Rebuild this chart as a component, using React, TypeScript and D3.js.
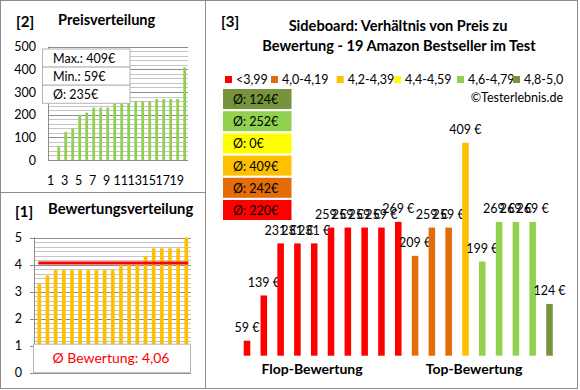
import React from 'react';
import * as d3 from 'd3';

// Prices (€) and ratings of the 19 bestsellers, in the order of the main chart
const prices = [59, 139, 231, 231, 231, 259, 259, 259, 259, 269, 209, 259, 259, 409, 199, 269, 269, 269, 124];
const ratings = [3.3, 3.6, 3.8, 3.8, 3.8, 3.8, 3.8, 3.8, 3.8, 3.8, 4.0, 4.0, 4.0, 4.3, 4.6, 4.6, 4.6, 4.6, 5.0];

const groupLabels = ['<3,99', '4,0-4,19', '4,2-4,39', '4,4-4,59', '4,6-4,79', '4,8-5,0'];
const groupColors = ['#FF0000', '#E46C0A', '#FFC000', '#FFFF00', '#92D050', '#77933C'];
const groupBreaks = [4.0, 4.2, 4.4, 4.6, 4.8];

const priceTicks = [0, 100, 200, 300, 400, 500];
const ratingTicks = [0, 1, 2, 3, 4, 5];
const priceAxisLabels = [1, 3, 5, 7, 9, 11, 13, 15, 17, 19];
const avgRating = 4.06;

const FONT = 'Lato, "Open Sans", sans-serif';
const BORDER = '#8c8c8c';
const MAJOR = '#8c8c8c';
const MINOR = '#c4c4c4';

const fmtDe = (v: number) => v.toFixed(2).replace('.', ',');

const App = () => {
  const idx = d3.range(prices.length);
  const group = ratings.map(r => d3.bisectRight(groupBreaks, r));
  const groupAvg = groupLabels.map((_, g) => {
    const vals = prices.filter((_, i) => group[i] === g);
    return vals.length ? Math.round(d3.mean(vals) as number) : 0;
  });
  const sortedPrices = [...prices].sort(d3.ascending);
  const sortedRatings = [...ratings].sort(d3.ascending);

  // ---- panel [3] main chart
  const x = d3.scaleBand<number>().domain(idx).range([238.6, 557.9]).paddingInner(0.61).paddingOuter(0.305);
  const y = d3.scaleLinear().domain([32.5, 409]).range([355.7, 142.7]);

  // ---- panel [2] price distribution
  const x2 = d3.scaleBand<number>().domain(idx).range([55.2, 188.2]).paddingInner(0.6).paddingOuter(0.3);
  const y2 = d3.scaleLinear().domain([0, 500]).range([160, 46.7]);
  const priceGrid = d3.range(0, 501, 20);

  // ---- panel [1] rating distribution
  const x1 = d3.scaleBand<number>().domain(idx).range([35.2, 190.4]).paddingInner(0.55).paddingOuter(0.275);
  const y1 = d3.scaleLinear().domain([0, 5]).range([372.7, 237.5]);
  const ratingGrid = d3.range(0, 31).map(k => k / 6);

  const stats = [
    `Max.: ${d3.max(prices)}€`,
    `Min.: ${d3.min(prices)}€`,
    `Ø: ${Math.round(d3.mean(prices) as number)}€`,
  ];

  return (
    <svg width={580} height={390} style={{ position: 'absolute', left: 0, top: 0, background: '#fff' }}
      fontFamily={FONT}>
      <rect x={0} y={0} width={580} height={390} fill="#fff" />

      {/* ===== Panel [2] ===== */}
      <text x={16} y={27} fontSize={15} fontWeight="bold">[2]</text>
      <text x={58} y={25} fontSize={14.6} fontWeight="bold">Preisverteilung</text>
      {priceGrid.map(v => (
        <line key={v} x1={48} x2={188} y1={Math.round(y2(v)) + 0.5} y2={Math.round(y2(v)) + 0.5}
          stroke={v % 100 === 0 ? MAJOR : MINOR} strokeWidth={1} />
      ))}
      <line x1={48.5} x2={48.5} y1={y2(500)} y2={y2(0)} stroke={MAJOR} />
      {priceTicks.map(v => (
        <text key={v} x={36} y={y2(v) + 4.5} fontSize={12.5} textAnchor="end">{v}</text>
      ))}
      {sortedPrices.map((p, i) => (
        <rect key={i} x={x2(i)} y={y2(p)} width={x2.bandwidth()} height={y2(0) - y2(p)} fill="#92D050" />
      ))}
      {priceAxisLabels.map(n => (
        <text key={n} x={(x2(n - 1) as number) + x2.bandwidth() / 2 - 8} y={185} fontSize={12.5}
          textAnchor="middle">{n}</text>
      ))}
      {stats.map((s, i) => (
        <g key={s}>
          <rect x={42.5} y={49 + i * 18.1} width={87.5} height={18.1} fill="#fff" stroke="#b4b4b4" />
          <text x={53} y={62.5 + i * 18.1} fontSize={12.5}>{s}</text>
        </g>
      ))}

      {/* ===== Panel [1] ===== */}
      <text x={15} y={217} fontSize={15} fontWeight="bold">[1]</text>
      <text x={48} y={214} fontSize={14.8} fontWeight="bold">Bewertungsverteilung</text>
      {ratingGrid.map((v, k) => (
        <line key={k} x1={34} x2={191} y1={Math.round(y1(v)) + 0.5} y2={Math.round(y1(v)) + 0.5}
          stroke={k % 6 === 0 ? MAJOR : MINOR} />
      ))}
      <line x1={34.5} x2={34.5} y1={y1(5)} y2={y1(0)} stroke={MAJOR} />
      {ratingTicks.map(v => (
        <g key={v}>
          <line x1={30} x2={34} y1={Math.round(y1(v)) + 0.5} y2={Math.round(y1(v)) + 0.5} stroke={MAJOR} />
          <text x={22} y={y1(v) + 4.5} fontSize={12.5} textAnchor="end">{v}</text>
        </g>
      ))}
      {sortedRatings.map((r, i) => (
        <rect key={i} x={x1(i)} y={y1(r)} width={x1.bandwidth()} height={y1(0) - y1(r)} fill="#FFC000" />
      ))}
      <line x1={38.3} x2={188.3} y1={y1(avgRating)} y2={y1(avgRating)} stroke="#FF0000" strokeWidth={3} />
      <rect x={33.5} y={y1(1) - 1.5} width={157} height={y1(0) - y1(1) + 1.5} fill="#fff" stroke="#b4b4b4" />
      <text x={111} y={362.5} fontSize={14} fill="#FF0000" textAnchor="middle">
        {`Ø Bewertung: ${fmtDe(avgRating)}`}
      </text>

      {/* ===== Panel [3] ===== */}
      <text x={221} y={27} fontSize={15} fontWeight="bold">[3]</text>
      <text x={398} y={30.5} fontSize={14.6} fontWeight="bold" textAnchor="middle">
        Sideboard: Verhältnis von Preis zu
      </text>
      <text x={399} y={50.5} fontSize={14.6} fontWeight="bold" textAnchor="middle">
        Bewertung - 19 Amazon Bestseller im Test
      </text>

      {[225, 271, 336.7, 394, 457, 513].map((lx, g) => (
        <g key={g}>
          <rect x={lx} y={76} width={7} height={7} fill={groupColors[g]} />
          <text x={lx + 11} y={83.5} fontSize={12.5}>{groupLabels[g]}</text>
        </g>
      ))}
      <text x={563} y={101.5} fontSize={12.5} textAnchor="end">©Testerlebnis.de</text>

      {groupLabels.map((_, k) => {
        const g = groupLabels.length - 1 - k;
        const top = 89 + k * 22.2;
        return (
          <g key={g}>
            <rect x={223} y={top} width={68.5} height={20} fill={groupColors[g]} />
            <text x={233} y={top + 15} fontSize={12.5}>{`Ø: ${groupAvg[g]}€`}</text>
          </g>
        );
      })}

      {prices.map((p, i) => (
        <g key={i}>
          <rect x={x(i)} y={y(p)} width={x.bandwidth()} height={y(32.5) - y(p)} fill={groupColors[group[i]]} />
          <text x={(x(i) as number) + x.bandwidth() / 2} y={y(p) - 8.5} fontSize={12.5} textAnchor="middle">
            {`${p} €`}
          </text>
        </g>
      ))}

      <text x={312} y={373.5} fontSize={14} fontWeight="bold" textAnchor="middle">Flop-Bewertung</text>
      <text x={474} y={373.5} fontSize={14} fontWeight="bold" textAnchor="middle">Top-Bewertung</text>

      {/* panel borders */}
      <rect x={0.5} y={0.5} width={205} height={192} fill="none" stroke={BORDER} />
      <rect x={0.5} y={192.5} width={205} height={196} fill="none" stroke={BORDER} />
      <rect x={205.5} y={0.5} width={372} height={388} fill="none" stroke={BORDER} />
    </svg>
  );
};

export default App;
